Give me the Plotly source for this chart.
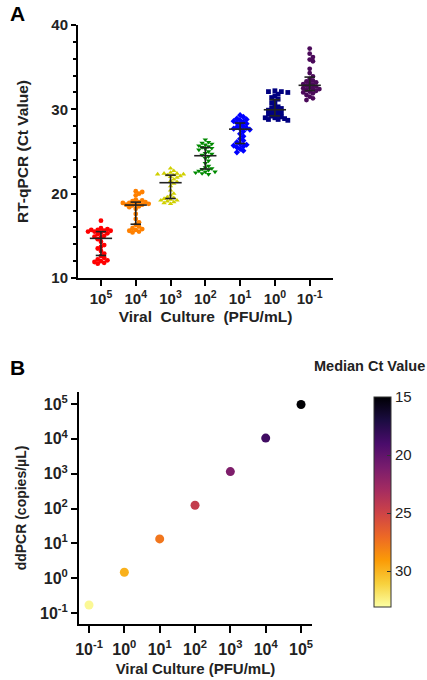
import numpy as np
import plotly.graph_objects as go

# ---------------- data ----------------
dilutions = ["10<sup>5</sup>", "10<sup>4</sup>", "10<sup>3</sup>", "10<sup>2</sup>",
             "10<sup>1</sup>", "10<sup>0</sup>", "10<sup>-1</sup>"]

ct_1e5 = [16.8, 15.9, 15.8, 15.7, 15.7, 15.6, 15.6, 15.5, 15.5, 15.4, 15.3, 15.2, 15.0, 14.9, 14.8,
          14.6, 14.3, 13.9, 13.7, 13.5, 13.2, 12.9, 12.6, 12.4, 12.2, 12.1, 12.0, 11.9, 11.8, 11.7]
ct_1e4 = [20.3, 20.2, 20.0, 19.8, 19.3, 19.2, 19.1, 19.0, 19.0, 18.9, 18.9, 18.8, 18.8, 18.7, 18.7,
          18.6, 18.5, 18.4, 18.2, 17.6, 17.0, 16.6, 16.3, 16.1, 15.9, 15.8, 15.7, 15.6, 15.5, 15.4]
ct_1e3 = [23.0, 22.7, 22.5, 22.4, 22.4, 22.3, 22.3, 22.2, 22.2, 22.1, 22.0, 21.9, 21.7, 21.5, 21.4,
          21.2, 20.9, 20.4, 20.0, 19.8, 19.6, 19.5, 19.4, 19.3, 19.2, 19.2, 19.1, 19.0, 18.9, 18.8]
ct_1e2 = [26.4, 26.1, 26.0, 25.9, 25.8, 25.7, 25.6, 25.5, 25.4, 25.3, 25.2, 25.0, 24.8, 24.7, 24.6,
          24.4, 24.2, 23.9, 23.6, 23.3, 23.1, 23.0, 22.9, 22.8, 22.7, 22.6, 22.6, 22.5, 22.4, 22.3]
ct_1e1 = [29.3, 29.1, 28.9, 28.8, 28.7, 28.6, 28.5, 28.4, 28.3, 28.2, 28.0, 27.9, 27.8, 27.7, 27.7,
          27.6, 27.4, 27.1, 26.8, 26.5, 26.3, 26.1, 25.9, 25.8, 25.7, 25.6, 25.5, 25.3, 25.1, 24.9]
ct_1e0 = [32.2, 32.1, 32.1, 32.0, 31.8, 31.6, 31.4, 31.2, 31.0, 30.8, 30.5, 30.3, 30.2, 30.1, 30.0,
          29.9, 29.8, 29.7, 29.6, 29.5, 29.4, 29.3, 29.2, 29.1, 29.0, 29.0, 28.9, 28.8, 28.8, 28.7]
ct_1em1 = [37.2, 36.6, 36.2, 35.9, 35.7, 34.8, 34.3, 33.9, 33.6, 33.4, 33.3, 33.2, 33.1, 33.0, 32.9,
           32.8, 32.7, 32.6, 32.5, 32.4, 32.4, 32.3, 32.2, 32.1, 32.0, 31.9, 31.7, 31.5, 31.3, 31.1]
ct_groups = [ct_1e5, ct_1e4, ct_1e3, ct_1e2, ct_1e1, ct_1e0, ct_1em1]

culture_pfu = [1e-1, 1e0, 1e1, 1e2, 1e3, 1e4, 1e5]
ddpcr_copies = [0.17, 1.48, 13.4, 124, 1150, 10500, 97000]
median_ct = [32.8, 29.9, 27.6, 24.5, 21.3, 18.6, 14.8]

log_tick_vals = [1e-1, 1e0, 1e1, 1e2, 1e3, 1e4, 1e5]
log_tick_text = ["10<sup>-1</sup>", "10<sup>0</sup>", "10<sup>1</sup>", "10<sup>2</sup>",
                 "10<sup>3</sup>", "10<sup>4</sup>", "10<sup>5</sup>"]
cbar_ticks = [15, 20, 25, 30]

# ---------------- style ----------------
group_colors = ["#FF0000", "#FF8000", "#D0D000", "#008A00", "#0000FF", "#000080", "#4B0A5A"]
group_symbols = ["circle", "circle", "triangle-up", "triangle-down", "diamond", "square", "circle"]
FONT = "Liberation Sans, Arial, sans-serif"
W, H = 427, 680


def swarm_offsets(vals, ypx, xpx, diam):
    placed = []
    offs = []
    for v in vals:
        k = 0
        while True:
            cands = [0] if k == 0 else [k, -k]
            done = False
            for c in cands:
                xo = c * diam * 0.95
                if all((xo - px) ** 2 + ((v - pv) * ypx) ** 2 >= diam ** 2 for px, pv in placed):
                    placed.append((xo, v))
                    offs.append(xo / xpx)
                    done = True
                    break
            if done:
                break
            k += 1
    return offs


fig = go.Figure()

# ---------------- panel A ----------------
ypx_A = (278 - 25) / 30.0
xpx_A = 34.8
for i, vals in enumerate(ct_groups):
    offs = swarm_offsets(vals, ypx_A, xpx_A, 3.4)
    fig.add_trace(go.Scatter(
        x=[i + o for o in offs], y=vals, mode="markers",
        marker=dict(color=group_colors[i], symbol=group_symbols[i], size=4.8, line=dict(width=0)),
        xaxis="x", yaxis="y", showlegend=False))
    med = float(np.median(vals))
    q1, q3 = [float(v) for v in np.percentile(vals, [25, 75])]
    xs = [i - 0.32, i + 0.32, None, i - 0.15, i + 0.15, None, i - 0.15, i + 0.15, None, i, i]
    ys = [med, med, None, q1, q1, None, q3, q3, None, q1, q3]
    fig.add_trace(go.Scatter(x=xs, y=ys, mode="lines", line=dict(color="#222222", width=1.6),
                             xaxis="x", yaxis="y", showlegend=False, hoverinfo="skip"))

# ---------------- panel B ----------------
fig.add_trace(go.Scatter(
    x=culture_pfu, y=ddpcr_copies, mode="markers",
    marker=dict(size=9, color=[-c for c in median_ct], colorscale="Inferno_r",
                cmin=-33.1, cmax=-15,
                colorbar=dict(x=364 / W, xanchor="left", y=1 - 502 / H, yanchor="middle",
                              len=230 / H, lenmode="fraction", thickness=17,
                              outlinewidth=1, outlinecolor="#333333",
                              tickvals=[-t for t in cbar_ticks], ticktext=[str(t) for t in cbar_ticks],
                              ticks="inside", ticklen=4, tickcolor="#333333",
                              tickfont=dict(family=FONT, size=15, color="#222222"))),
    xaxis="x2", yaxis="y2", showlegend=False))

axis_common = dict(showline=True, linecolor="black", linewidth=2, ticks="outside",
                   tickcolor="black", tickwidth=2, showgrid=False, zeroline=False,
                   automargin=False)
fontA = dict(family=FONT, size=15, color="#222222", weight="bold")
fontB = dict(family=FONT, size=16, color="#222222", weight="bold")

fig.update_layout(
    width=W, height=H, margin=dict(l=0, r=0, t=0, b=0),
    paper_bgcolor="white", plot_bgcolor="white",
    xaxis=dict(domain=[78 / W, 333 / W], range=[-0.66, 6.67],
               tickvals=list(range(len(dilutions))), ticktext=dilutions, ticklen=6,
               anchor="y", tickfont=fontA,
               title=dict(text="Viral&nbsp; Culture&nbsp; (PFU/mL)",
                          font=dict(family=FONT, size=15.5, color="#222222", weight="bold"),
                          standoff=5),
               **axis_common),
    yaxis=dict(domain=[1 - 278 / H, 1 - 25 / H], range=[10, 40], tickvals=[10, 20, 30, 40],
               ticklen=5, anchor="x", tickfont=fontA,
               minor=dict(dtick=2, ticks="outside", ticklen=3, tickwidth=1.5, tickcolor="black"),
               title=dict(text="RT-qPCR (Ct Value)",
                          font=dict(family=FONT, size=15.5, color="#222222", weight="bold"),
                          standoff=19),
               **axis_common),
    xaxis2=dict(domain=[79 / W, 312 / W], type="log", range=[-1.283, 5.31],
                tickvals=log_tick_vals, ticktext=log_tick_text, ticklen=7, anchor="y2",
                tickfont=fontB, ticklabelstandoff=3,
                title=dict(text="Viral Culture (PFU/mL)",
                           font=dict(family=FONT, size=15, color="#222222", weight="bold"),
                           standoff=6),
                **axis_common),
    yaxis2=dict(domain=[1 - 624 / H, 1 - 392 / H], type="log", range=[-1.316, 5.345],
                tickvals=log_tick_vals, ticktext=log_tick_text, ticklen=6, anchor="x2",
                tickfont=fontB,
                title=dict(text="ddPCR (copies/µL)",
                           font=dict(family=FONT, size=14, color="#222222", weight="bold"),
                           standoff=10),
                **axis_common),
    annotations=[
        dict(text="A", x=8 / W, y=1.0, xref="paper", yref="paper", xanchor="left",
             yanchor="top", showarrow=False,
             font=dict(family=FONT, size=21, color="black", weight="bold")),
        dict(text="B", x=8 / W, y=1 - 354 / H, xref="paper", yref="paper", xanchor="left",
             yanchor="top", showarrow=False,
             font=dict(family=FONT, size=21, color="black", weight="bold")),
        dict(text="Median Ct Value", x=1.0, y=1 - 366 / H, xref="paper", yref="paper",
             xanchor="right", yanchor="middle", showarrow=False,
             font=dict(family=FONT, size=14.5, color="#222222", weight="bold")),
    ],
)

fig.write_html("out.html", config={"displayModeBar": False},
               post_script="document.body.style.margin='0px';")
